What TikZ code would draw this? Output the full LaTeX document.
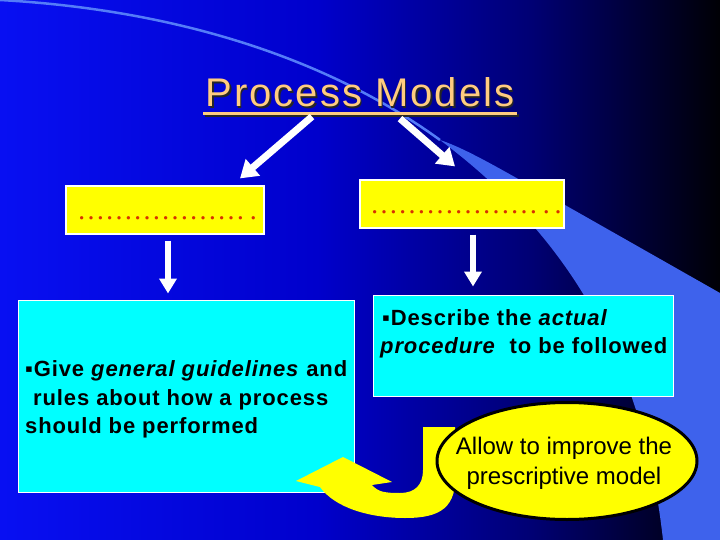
\documentclass[tikz,border=0pt]{standalone}
\usepackage{fontspec}
\setmainfont{Liberation Sans}
\newfontfamily\serifdots{Liberation Serif}
\newfontfamily\bodyfont[LetterSpace=4]{Liberation Sans}
\newfontfamily\titlefont[LetterSpace=5]{Liberation Sans}
\usetikzlibrary{arrows.meta,shapes.geometric,calc}
\definecolor{titleorange}{RGB}{255,204,128}
\definecolor{swoosh}{RGB}{62,98,236}
\definecolor{swooshline}{RGB}{84,124,248}
\definecolor{dotred}{RGB}{215,50,0}
\definecolor{ubox}{RGB}{255,255,0}
\definecolor{cbox}{RGB}{0,255,255}
\newcommand\myell{\char"2026}
\newcommand\sixell{\myell\myell\myell\myell\myell\myell}
\pgfdeclarehorizontalshading{bgshade}{100bp}{rgb(0bp)=(0.03,0.06,0.95); rgb(25bp)=(0.03,0.06,0.95); rgb(47bp)=(0,0,0.80); rgb(62bp)=(0,0,0.45); rgb(75bp)=(0,0,0.02); rgb(100bp)=(0,0,0.02)}
\begin{document}
\begin{tikzpicture}[x=1pt,y=-1pt,
  ybox/.style={draw=white, line width=1.2pt, fill=ubox, minimum height=48pt, inner sep=0},
  cboxst/.style={draw=white, line width=1pt, fill=cbox, inner sep=0},
  dotstyle/.style={anchor=base west, inner sep=0, text=dotred, font=\serifdots\fontsize{28}{30}\selectfont},
  bodytext/.style={anchor=base west, inner sep=0, text=black, font=\bodyfont\fontsize{22}{29}\selectfont\bfseries},
  titletext/.style={anchor=base, inner sep=0, font=\titlefont\fontsize{40}{48}\selectfont},
  bigarrow/.style={draw=white, line width=7pt, -{Triangle[width=21pt,length=17pt]}},
  downarrow/.style={draw=white, line width=6pt, -{Triangle[width=17pt,length=15pt]}, shorten <=6pt}]
\useasboundingbox (0,0) rectangle (720,540);
% background
\shade[shading=bgshade] (0,0) rectangle (720,540);
\fill[swoosh] (440,140) .. controls (540,215) and (640,330) .. (663,540) -- (720,540) -- (720,293) -- (565,205) .. controls (510,175) and (470,150) .. cycle;
\draw[swooshline, line width=2.5pt] (0,0) .. controls (180,10) and (330,60) .. (440,140);
% title
\draw[black!85, line width=3pt] (204.5,115.5) -- (518.5,115.5);
\node (titleshadow) [titletext, text=black!85] at (361.5,108.5) {Process Models};
\node (title) [titletext, text=titleorange] at (360,107) {Process Models};
\draw[titleorange, line width=3pt] (203,113.5) -- (517,113.5);
% yellow boxes
\node (ybl) [ybox, minimum width=198pt] at (165,210) {};
\node (ybr) [ybox, minimum width=204pt] at (462,204) {};
\node (dl) [dotstyle] at (77,220) {\sixell\,.};
\node (dr) [dotstyle] at (370,214) {\sixell\,.\,.};
% cyan boxes
\node (cbl) [cboxst, minimum width=336pt, minimum height=192pt] at (186,396) {};
\node (cbr) [cboxst, minimum width=300pt, minimum height=101pt] at (523,345.5) {};
\node (l1) [bodytext] at (25,376) {▪Give \textit{general guidelines} and};
\node (l2) [bodytext] at (33,405) {rules about how a process};
\node (l3) [bodytext] at (25,433) {should be performed};
\node (r1) [bodytext] at (382,325) {▪Describe the \textit{actual}};
\node (r2) [bodytext] at (380,353) {\textit{procedure}\ \ to be followed};
% arrows
\draw[bigarrow] ([xshift=-48pt,yshift=-9pt]title.south) -- ([xshift=75pt,yshift=7pt]ybl.north);
\draw[bigarrow] ([xshift=40pt,yshift=-11pt]title.south) -- ([xshift=-7pt,yshift=13pt]ybr.north);
\draw[downarrow, shorten >=6pt] ([xshift=3pt]ybl.south) -- ([xshift=3pt]ybl.south |- cbl.north);
\draw[downarrow, shorten >=8pt] ([xshift=11pt]ybr.south) -- ([xshift=11pt]ybr.south |- cbr.north);
% U-turn arrow
\fill[ubox] (423,427) -- (455,427) -- (455,470) .. controls (458,508) and (440,518) .. (405,518) .. controls (370,518) and (335,508) .. (320,487) -- (296,481) -- (343,457) -- (392,482) -- (372,485) .. controls (378,492) and (385,493) .. (400,493) .. controls (415,493) and (423,485) .. (423,470) -- cycle;
% ellipse
\node (ell) [ellipse, draw=black, line width=3pt, fill=ubox, minimum width=260pt, minimum height=117pt, inner sep=0] at (567,461) {};
\node (etext) [align=center, inner sep=0, font=\fontsize{24}{30}\selectfont] at (564,463) {Allow to improve the\\prescriptive model};
\end{tikzpicture}
\end{document}
